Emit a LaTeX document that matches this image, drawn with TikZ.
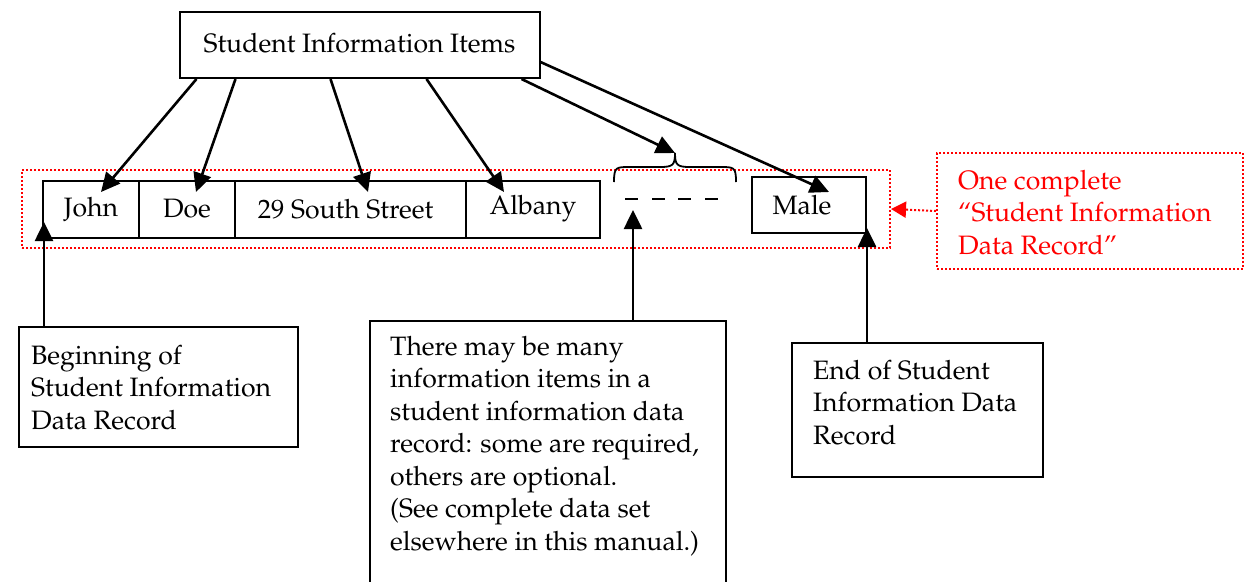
\documentclass[tikz,border=0pt]{standalone}
\usepackage[T1]{fontenc}
\usepackage{mathpazo}
\usetikzlibrary{arrows.meta}
\begin{document}
\begin{tikzpicture}[x=1pt,y=-1pt,
  txt/.style={font=\fontsize{26.6}{32.5}\selectfont},
  box/.style={draw=black,line width=2pt,inner sep=0pt,txt},
  reddot/.style={draw=red,line width=2pt,dotted,inner sep=0pt},
  arr/.style={line width=2.6pt,-{Triangle[length=19pt,width=18pt]}},
  redarr/.style={red,line width=2pt,dotted,-{Triangle[length=15pt,width=16pt]}},
  para/.style={txt,align=left,anchor=north west,inner sep=0pt}]
\useasboundingbox (0,0) rectangle (1249,581);
\begin{scope}
\clip (0,0) rectangle (1249,581);
% top box
\node[box,minimum width=360pt,minimum height=66pt] (top) at (359.5,45) {\raisebox{4pt}{Student Information Items}};
% record outline
\node[reddot,minimum width=868pt,minimum height=78pt] (record) at (456,209) {};
% cells
\node[box,minimum width=96pt,minimum height=57pt] (john) at (91,209) {John};
\node[box,minimum width=96pt,minimum height=57pt] (doe) at (187,209) {Doe};
\node[box,minimum width=231pt,minimum height=57pt] (street) at (350.5,209) {\hspace*{-10pt}29 South Street};
\node[box,minimum width=134pt,minimum height=57pt] (albany) at (533,209) {\raisebox{-2pt}{Albany}};
\node[box,minimum width=114pt,minimum height=56pt] (male) at (809,205) {\hspace*{-14pt}Male};
% brace
\coordinate (btip) at (675,153);
\draw[line width=1.8pt] (614,182) .. controls (614,167) and (616,167) .. (630,167) -- (660,167) .. controls (673,167) and (675,165) .. (btip) .. controls (675,165) and (677,167) .. (690,167) -- (720,167) .. controls (734,167) and (736,167) .. (736,182);
% dashes
\foreach \a in {625,652,678,705}
  \draw[line width=1.4pt] (\a,199) -- (\a+13,199);
% red note
\node[reddot,minimum width=306pt,minimum height=116pt] (note) at (1090,211) {};
\node[para,text=red] (notetxt) at (958,170) {One complete\\``Student Information\\Data Record''};
\draw[redarr] (note.west) -- (record.east);
% bottom boxes
\node[box,minimum width=279pt,minimum height=120pt] (beg) at (158.5,387) {};
\node[para] (begtxt) at (31,345) {Beginning of\\Student Information\\Data Record};
\node[box,minimum width=356pt,minimum height=290pt] (many) at (548,466) {};
\node[para] (manytxt) at (390,336) {There may be many\\information items in a\\student information data\\record: some are required,\\others are optional.\\(See complete data set\\elsewhere in this manual.)};
\node[box,minimum width=251pt,minimum height=134pt] (endb) at (917.5,410) {};
\node[para] (endtxt) at (813,360) {End of Student\\Information Data\\Record};
% arrows from top box
\coordinate (tj) at (101,192);
\coordinate (td) at (196,192);
\coordinate (ts) at (368,192);
\coordinate (ta) at (504,192);
\coordinate (tm) at (829,192);
\draw[arr] ([xshift=18pt]top.south west) -- (tj);
\draw[arr] ([xshift=57pt]top.south west) -- (td);
\draw[arr] ([xshift=152pt]top.south west) -- (ts);
\draw[arr] ([xshift=248pt]top.south west) -- (ta);
\draw[arr] ([xshift=343pt]top.south west) -- (btip);
\draw[arr] ([yshift=-17pt]top.east) -- (tm);
% up arrows
\coordinate (ub) at (44,222);
\coordinate (um) at (633,210);
\coordinate (ue) at (867,228);
\draw[arr] (beg.north -| ub) -- (ub);
\draw[arr] (many.north -| um) -- (um);
\draw[arr] (endb.north -| ue) -- (ue);
\end{scope}
\end{tikzpicture}
\end{document}
